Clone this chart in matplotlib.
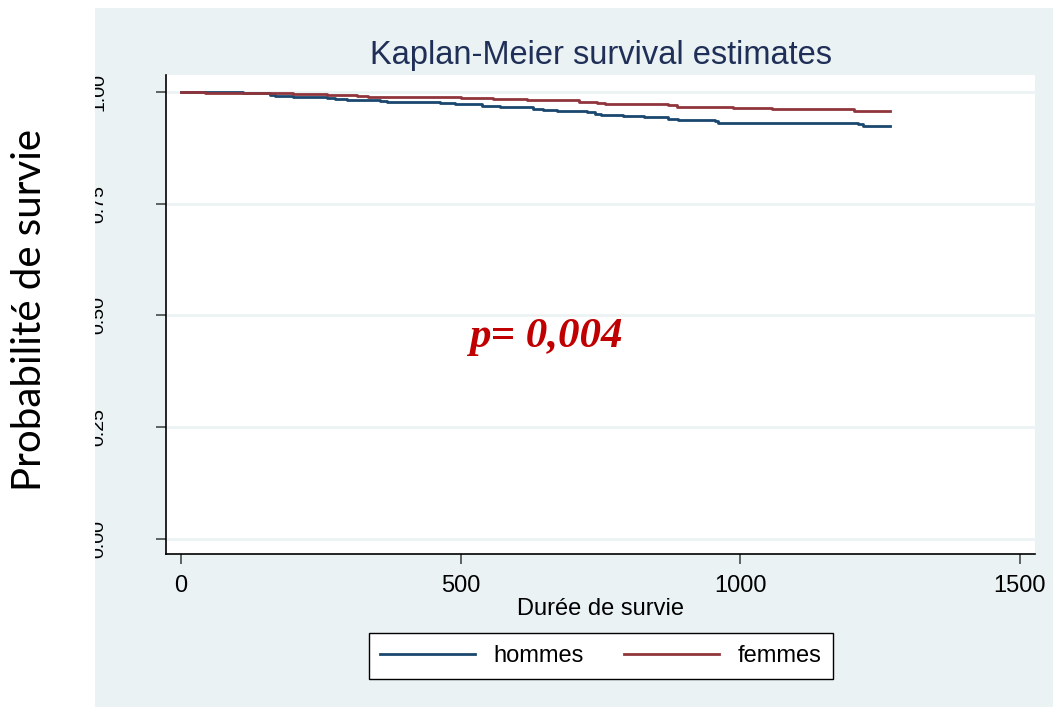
import numpy as np
import matplotlib
matplotlib.use("Agg")
import matplotlib.pyplot as plt
from matplotlib.patches import Rectangle

# Kaplan-Meier estimates (time in days, survival prob.)
t_hommes = [0, 111, 159, 168, 200, 261, 275, 297, 320, 356, 368, 463, 490, 508,
            538, 570, 630, 648, 673, 726, 741, 750, 791, 827, 871, 889, 955, 961,
            1211, 1220, 1267]
s_hommes = [1.000, 0.997, 0.993, 0.990, 0.988, 0.986, 0.984, 0.983, 0.982, 0.980,
            0.978, 0.976, 0.974, 0.972, 0.969, 0.967, 0.963, 0.960, 0.957, 0.955,
            0.951, 0.949, 0.946, 0.943, 0.940, 0.937, 0.934, 0.931, 0.928, 0.923,
            0.923]

t_femmes = [0, 21, 43, 177, 200, 261, 315, 335, 500, 558, 576, 618, 672, 711, 726,
            744, 758, 853, 871, 887, 987, 1057, 1122, 1203, 1267]
s_femmes = [1.000, 0.999, 0.998, 0.997, 0.995, 0.994, 0.992, 0.988, 0.987, 0.985,
            0.984, 0.982, 0.981, 0.978, 0.977, 0.976, 0.974, 0.972, 0.970, 0.967,
            0.964, 0.963, 0.961, 0.958, 0.958]

xticks = [0, 500, 1000, 1500]
yticks = [0.00, 0.25, 0.50, 0.75, 1.00]
ytick_labels = ["0.00", "0.25", "0.50", "0.75", "1.00"]

navy = "#1a476f"
maroon = "#90353b"
bg = "#eaf2f3"

fig = plt.figure(figsize=(10.53, 7.07), dpi=100)
fig.patch.set_facecolor("white")
W, H = 1053, 707

# light stata-like graph region
fig.patches.append(Rectangle((95 / W, 0), 1 - 95 / W, (H - 8) / H,
                             transform=fig.transFigure, facecolor=bg,
                             edgecolor="none", zorder=-1))

ax = fig.add_axes([166 / W, (H - 554) / H, (1035 - 166) / W, (554 - 75) / H])
ax.set_facecolor("white")

ax.step(t_hommes, s_hommes, where="post", color=navy, lw=2, label="hommes")
ax.step(t_femmes, s_femmes, where="post", color=maroon, lw=2, label="femmes")

ax.set_xlim(-27, 1527)
ax.set_ylim(-0.034, 1.038)
ax.set_xticks(xticks)
ax.set_yticks(yticks)
ax.set_yticklabels(ytick_labels, rotation=90, va="center")
ax.grid(axis="y", color=bg, lw=1.8)
ax.set_axisbelow(True)

for s in ["top", "right"]:
    ax.spines[s].set_visible(False)
for s in ["left", "bottom"]:
    ax.spines[s].set_color("black")
    ax.spines[s].set_linewidth(1.2)

ax.tick_params(axis="both", direction="out", length=7, width=1.3, color="#555555")
ax.tick_params(axis="x", labelsize=17, pad=8)
ax.tick_params(axis="y", labelsize=14, pad=35)
for lab in ax.get_xticklabels() + ax.get_yticklabels():
    lab.set_family("Liberation Sans")

ax.set_xlabel("Durée de survie", fontsize=17, family="Liberation Sans", labelpad=1)
ax.set_title("Kaplan-Meier survival estimates", fontsize=23.5, color="#1f2f57",
             family="Liberation Sans", pad=8)

ax.text(0.437, 0.453, "p= 0,004", transform=ax.transAxes, color="#c00000",
        fontsize=31, fontweight="bold", fontstyle="italic",
        family="Liberation Serif", ha="center", va="center")

leg = ax.legend(loc="center", bbox_to_anchor=(601 / W, (H - 656) / H),
                bbox_transform=fig.transFigure, ncol=2,
                frameon=True, fancybox=False, handlelength=4.0,
                handletextpad=0.8, columnspacing=1.7, borderpad=0.5,
                prop={"family": "Liberation Sans", "size": 17})
leg.get_frame().set_edgecolor("black")
leg.get_frame().set_linewidth(1.0)
leg.get_frame().set_facecolor("white")
leg.get_frame().set_alpha(1)

# white band on the left that cuts the y tick labels
fig.patches.append(Rectangle((0, 0), 95 / W, 1, transform=fig.transFigure,
                             facecolor="white", edgecolor="none", zorder=5))
fig.text(30 / W, (H - 310) / H, "Probabilité de survie", rotation=90,
         fontsize=29, family="Lato", ha="center", va="center", zorder=6)

fig.savefig("out.png", dpi=100)
